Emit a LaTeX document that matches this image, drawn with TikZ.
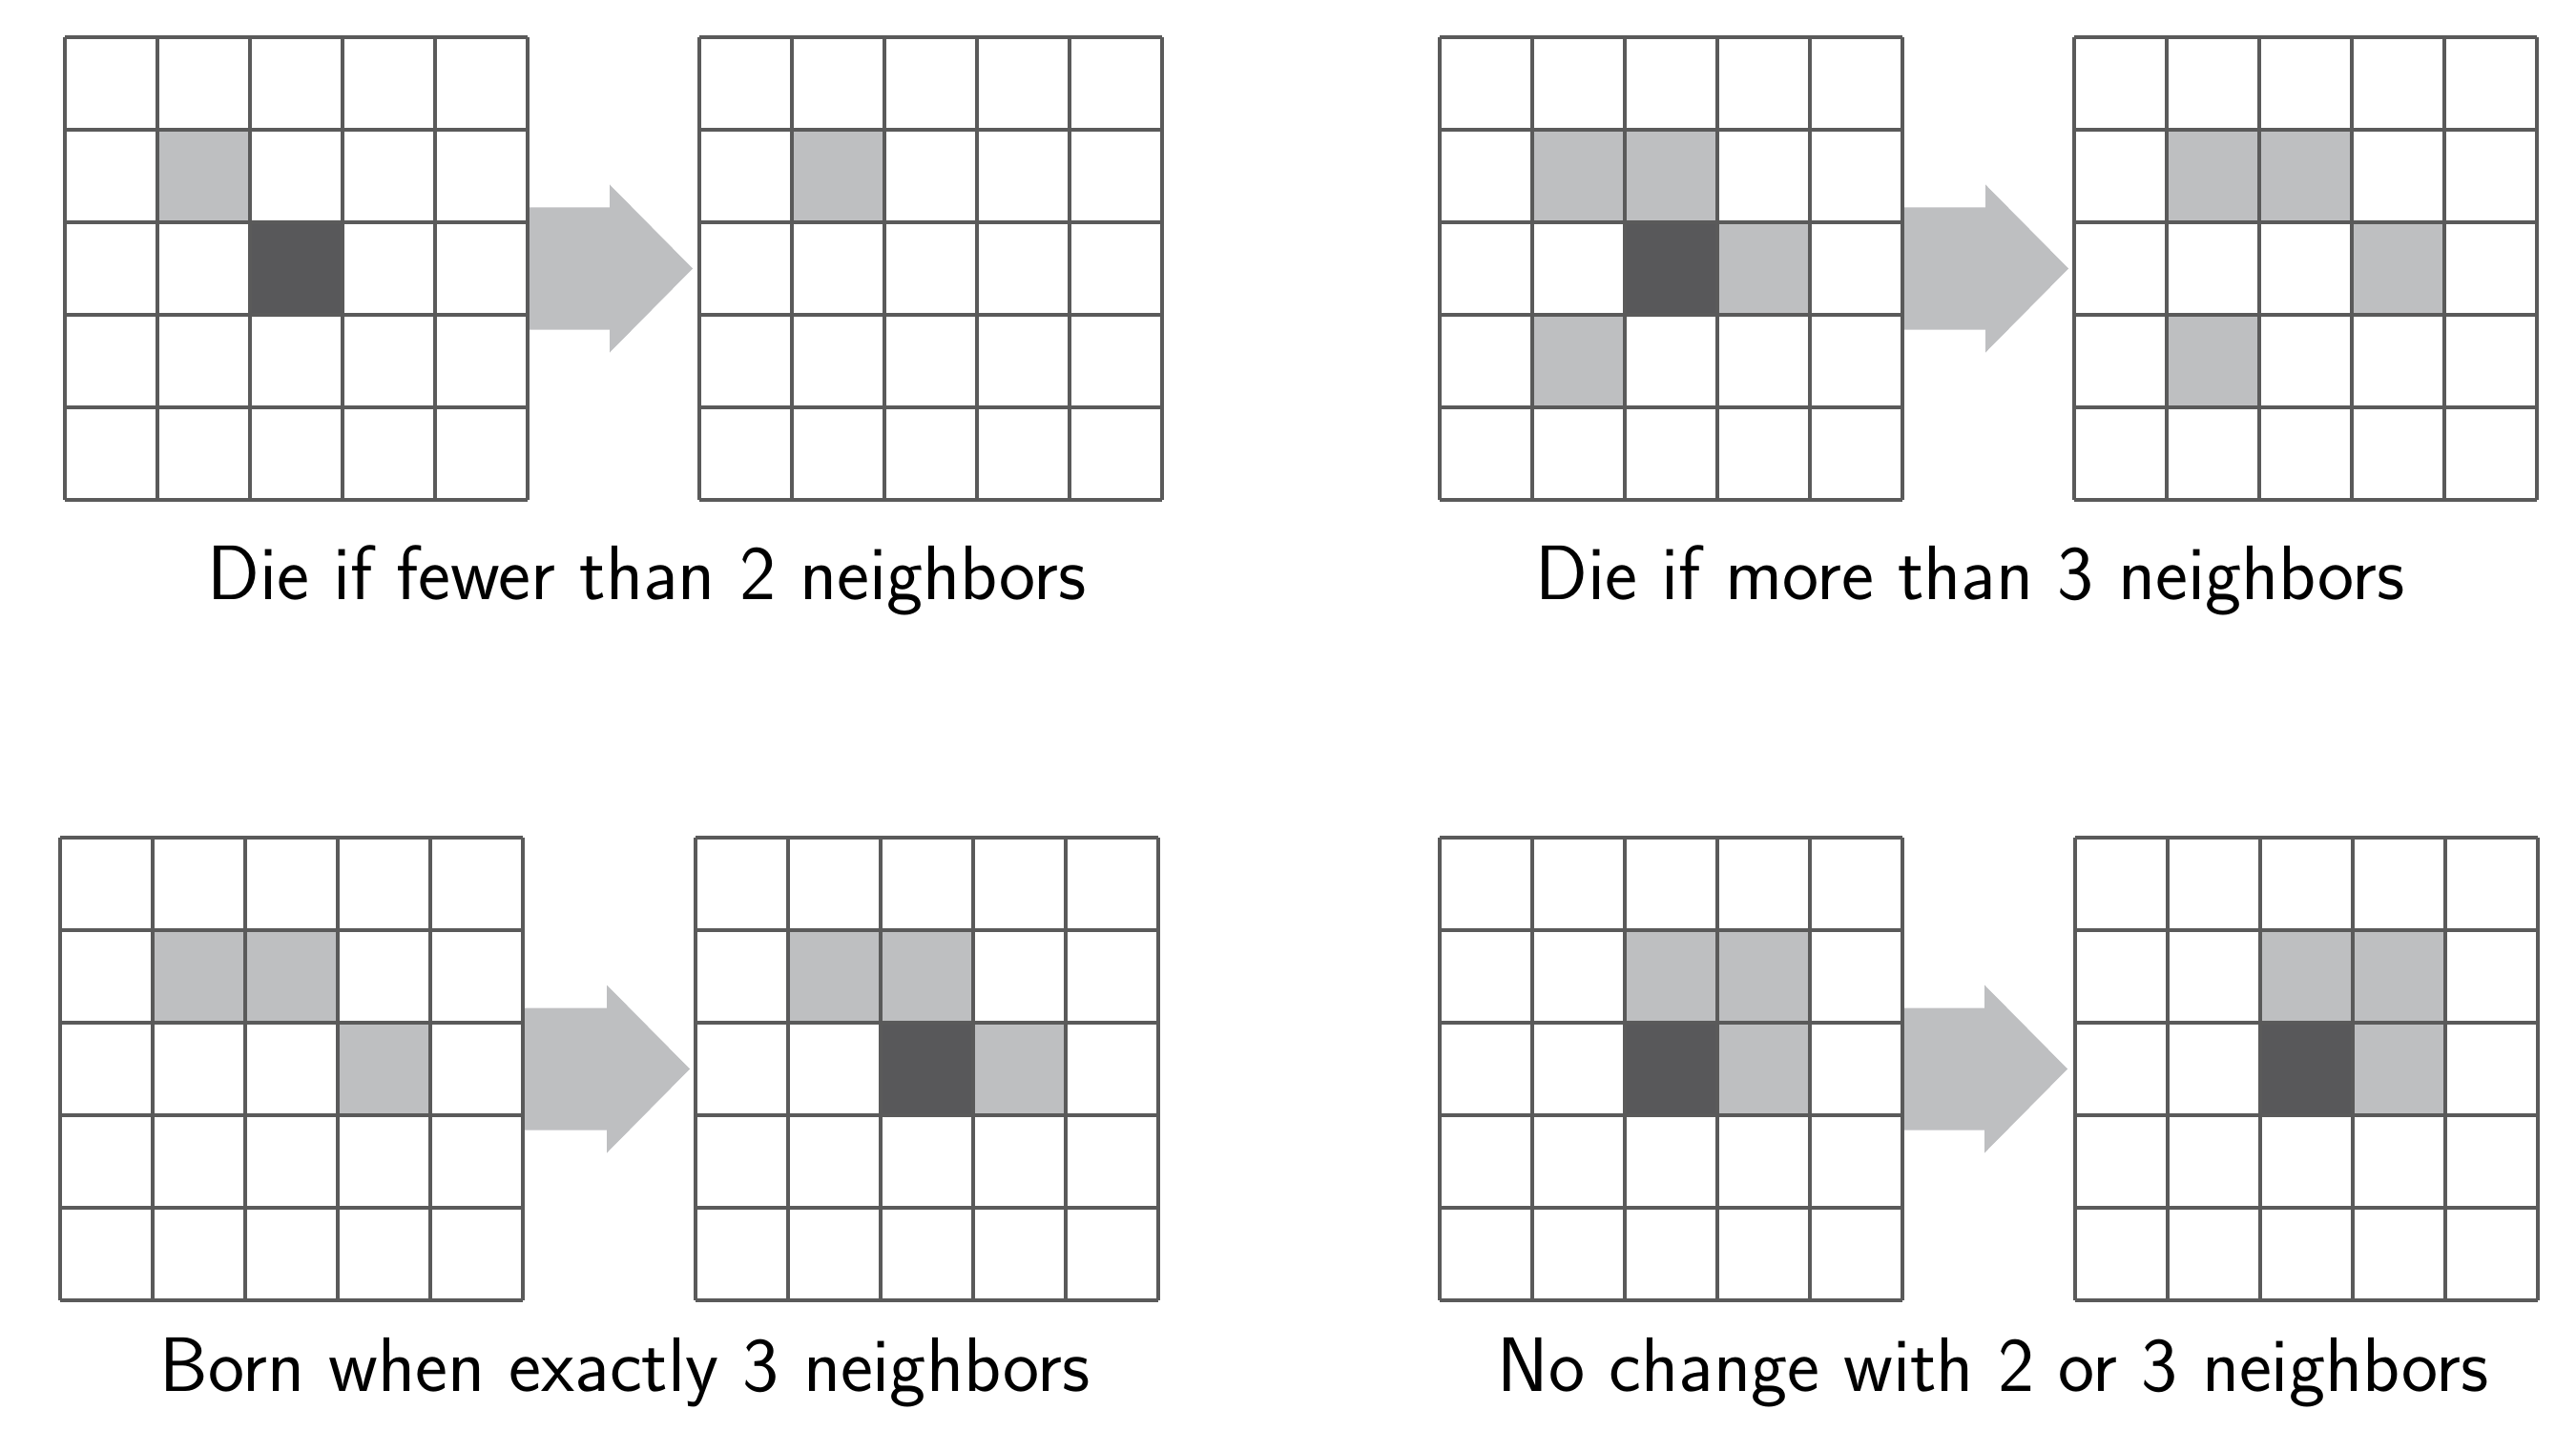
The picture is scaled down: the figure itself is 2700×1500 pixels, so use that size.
\documentclass[tikz,border=0pt]{standalone}
\usepackage{xcolor}

\definecolor{cellLight}{HTML}{BEBFC1}
\definecolor{cellDark}{HTML}{58585A}
\definecolor{gridGray}{HTML}{5A5A5A}

\tikzset{
  gridLine/.style={draw=gridGray,line width=1pt},
  ruleLabel/.style={font=\sffamily\fontsize{23}{27}\selectfont,inner sep=0pt,anchor=base}
}

% Gitter mit gefuellten Zellen: x, y, Liste Spalte/Zeile/Farbe
\newcommand{\lifeGrid}[3]{%
  \foreach \c/\r/\col in {#3}
    \fill[fill=\col] (#1+\c*\cellSize,#2+\r*\cellSize) rectangle ++(\cellSize,\cellSize);
  \foreach \i in {0,...,5} {
    \draw[gridLine] (#1+\i*\cellSize,#2) -- (#1+\i*\cellSize,#2+5*\cellSize);
    \draw[gridLine] (#1,#2+\i*\cellSize) -- (#1+5*\cellSize,#2+\i*\cellSize);
  }
}

% Pfeil: Start x, Mitte y
\newcommand{\stepArrow}[2]{%
  \fill[cellLight] (#1,#2-64) -- (#1+86,#2-64) -- (#1+86,#2-88) -- (#1+173,#2)
    -- (#1+86,#2+88) -- (#1+86,#2+64) -- (#1,#2+64) -- cycle;
}

\begin{document}
\begin{tikzpicture}[x=0.01cm,y=-0.01cm]
    \pgfmathsetmacro{\cellSize}{97}
    \pgfmathsetmacro{\topRow}{39}
    \pgfmathsetmacro{\bottomRow}{878}

    \useasboundingbox (0,0) rectangle (2700,1500);

    % Weniger als 2 Nachbarn
    \stepArrow{553}{\topRow+242.5}
    \lifeGrid{68}{\topRow}{1/1/cellLight,2/2/cellDark}
    \lifeGrid{733}{\topRow}{1/1/cellLight}
    \node[ruleLabel] (lblFewer) at (678,628) {Die if fewer than 2 neighbors};

    % Mehr als 3 Nachbarn
    \stepArrow{1995}{\topRow+242.5}
    \lifeGrid{1509}{\topRow}{1/1/cellLight,2/1/cellLight,3/2/cellLight,1/3/cellLight,2/2/cellDark}
    \lifeGrid{2174}{\topRow}{1/1/cellLight,2/1/cellLight,3/2/cellLight,1/3/cellLight}
    \node[ruleLabel] (lblMore) at (2065,628) {Die if more than 3 neighbors};

    % Geburt
    \stepArrow{550}{\bottomRow+242.5}
    \lifeGrid{63}{\bottomRow}{1/1/cellLight,2/1/cellLight,3/2/cellLight}
    \lifeGrid{729}{\bottomRow}{1/1/cellLight,2/1/cellLight,3/2/cellLight,2/2/cellDark}
    \node[ruleLabel] (lblBorn) at (655,1458) {Born when exactly 3 neighbors};

    % Keine Aenderung
    \stepArrow{1994}{\bottomRow+242.5}
    \lifeGrid{1509}{\bottomRow}{2/1/cellLight,3/1/cellLight,3/2/cellLight,2/2/cellDark}
    \lifeGrid{2175}{\bottomRow}{2/1/cellLight,3/1/cellLight,3/2/cellLight,2/2/cellDark}
    \node[ruleLabel] (lblSame) at (2089,1458) {No change with 2 or 3 neighbors};
\end{tikzpicture}
\end{document}
